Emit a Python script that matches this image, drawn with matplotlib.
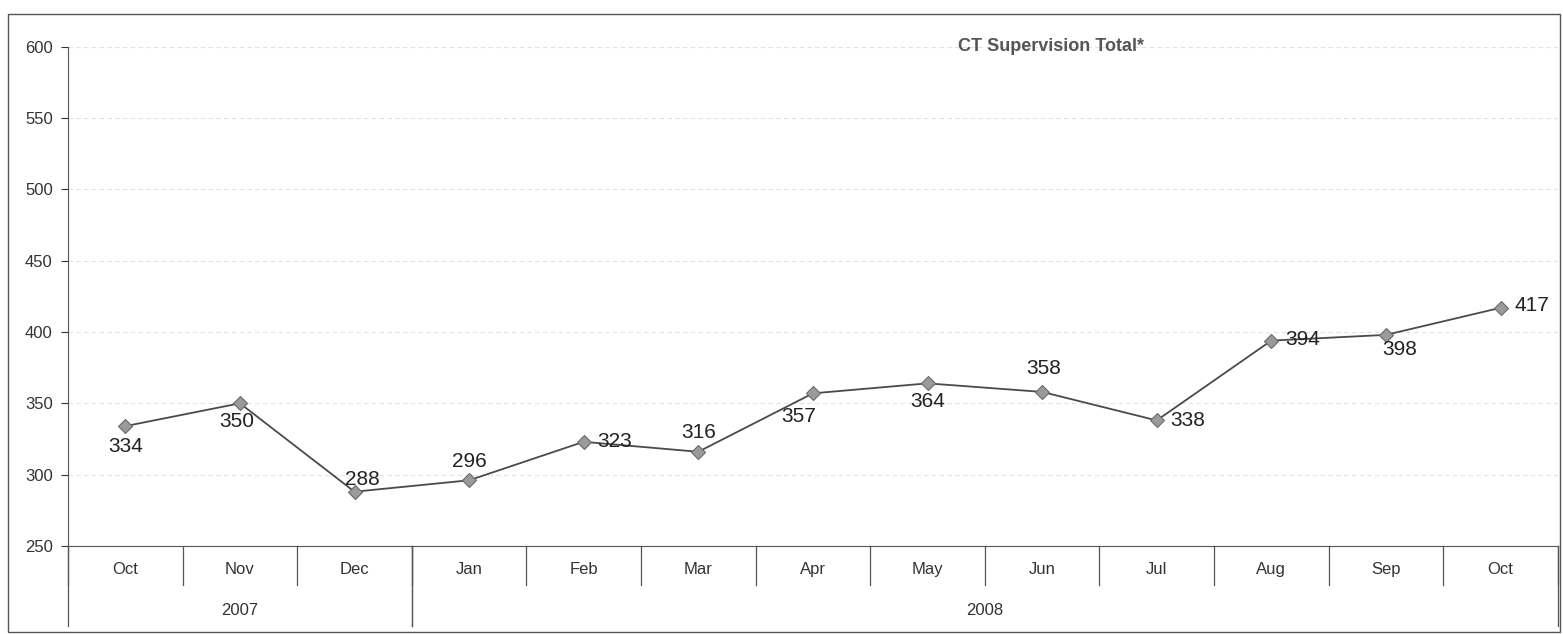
import matplotlib.pyplot as plt
from matplotlib.patches import Rectangle
from matplotlib.transforms import blended_transform_factory

plt.rcParams['font.family'] = ['Liberation Sans', 'DejaVu Sans']

months = ['Oct', 'Nov', 'Dec', 'Jan', 'Feb', 'Mar', 'Apr', 'May', 'Jun', 'Jul', 'Aug', 'Sep', 'Oct']
years = ['2007', '2008']
year_spans = [(0, 2), (3, 12)]
totals = [334, 350, 288, 296, 323, 316, 357, 364, 358, 338, 394, 398, 417]

# label placement (offset in points, ha, va)
lab_pos = [((0, -8), 'center', 'top'), ((-2, -6), 'center', 'top'),
           ((6, 2), 'center', 'bottom'), ((0, 7), 'center', 'bottom'),
           ((10, 0), 'left', 'center'), ((0, 7), 'center', 'bottom'),
           ((-10, -10), 'center', 'top'), ((0, -6), 'center', 'top'),
           ((1, 10), 'center', 'bottom'), ((10, 0), 'left', 'center'),
           ((10, 1), 'left', 'center'), ((10, -4), 'center', 'top'),
           ((10, 2), 'left', 'center')]

fig = plt.figure(figsize=(15.63, 6.34), dpi=100)
ax = fig.add_axes([0.0435, 0.139, 0.9532, 0.787])

x = list(range(len(totals)))
ax.plot(x, totals, color='#4a4a4a', lw=1.3, marker='D', ms=7,
        mfc='#9a9a9a', mec='#6a6a6a', mew=0.8, zorder=3)

for i, v in enumerate(totals):
    (dx, dy), ha, va = lab_pos[i]
    ax.annotate(str(v), (i, v), xytext=(dx, dy), textcoords='offset points',
                ha=ha, va=va, fontsize=15, color='#222222')

ax.set_xlim(-0.5, 12.5)
ax.set_ylim(250, 600)
ax.set_yticks(range(250, 601, 50))
ax.tick_params(axis='y', length=5, labelsize=12, colors='#333333', pad=6)
ax.yaxis.grid(True, color='#e2e2e2', lw=0.8, ls=(0, (4, 3)))
ax.set_axisbelow(True)

ax.set_xticks([])
for s in ['top', 'right']:
    ax.spines[s].set_visible(False)
ax.spines['left'].set_color('#555555')
ax.spines['bottom'].set_color('#555555')

tr = blended_transform_factory(ax.transData, ax.transAxes)
row1 = -0.078
row2 = -0.16
for i, m in enumerate(months):
    ax.text(i, row1 * 0.6, m, transform=tr, ha='center', va='center',
            fontsize=12, color='#333333')
for b in range(len(months) + 1):
    ax.plot([b - 0.5, b - 0.5], [0, row1], transform=tr, color='#555555',
            lw=0.9, clip_on=False)
for (a, b), yr in zip(year_spans, years):
    ax.text((a + b) / 2, (row1 + row2) / 2 - 0.01, yr, transform=tr, ha='center',
            va='center', fontsize=12, color='#333333')
    for edge in (a - 0.5, b + 0.5):
        ax.plot([edge, edge], [0, row2], transform=tr, color='#555555',
                lw=0.9, clip_on=False)

ax.text(0.66, 1.0, 'CT Supervision Total*', transform=ax.transAxes, ha='center',
        va='center', fontsize=13, fontweight='bold', color='#555555')

fig.patches.append(Rectangle((0.005, 0.003), 0.993, 0.975, transform=fig.transFigure,
                             fill=False, edgecolor='#555555', lw=1.0))

fig.savefig('out.png', dpi=100)
